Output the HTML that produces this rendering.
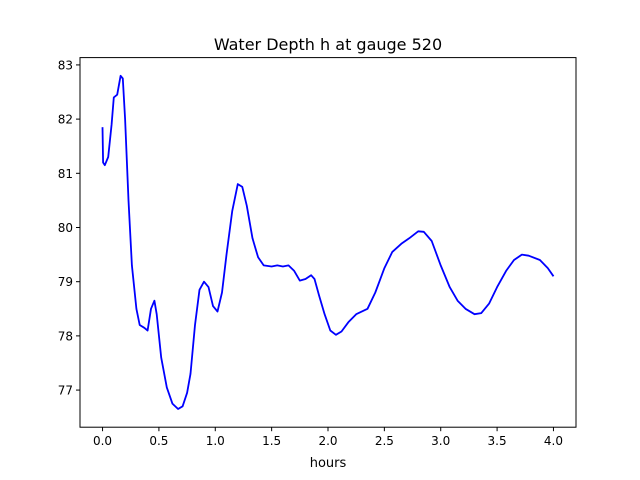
<!DOCTYPE html>
<html><head><meta charset="utf-8"><style>body{margin:0;background:#fff}svg{display:block}text{font-family:"DejaVu Sans","Liberation Sans",sans-serif}</style></head>
<body>
<svg id="chart" width="640" height="480">
<rect width="640" height="480" fill="#fff"/>
<text x="328" y="50" font-size="16" text-anchor="middle">Water Depth h at gauge 520</text>
<text x="328" y="467" font-size="13" text-anchor="middle">hours</text>
<g id="ticks"></g>
<polyline id="line" fill="none" stroke="#0000ff" stroke-width="1.8" stroke-linejoin="round"/>
<rect x="80" y="57.6" width="496" height="369.6" fill="none" stroke="#000" stroke-width="1"/>
</svg>
<script>
const hours=[0,0.005,0.02,0.05,0.08,0.1,0.13,0.16,0.18,0.2,0.23,0.26,0.3,0.33,0.37,0.4,0.43,0.46,0.48,0.52,0.57,0.62,0.67,0.71,0.75,0.78,0.82,0.86,0.9,0.94,0.98,1.02,1.06,1.1,1.15,1.2,1.24,1.28,1.33,1.38,1.43,1.5,1.55,1.6,1.65,1.7,1.75,1.8,1.85,1.88,1.92,1.97,2.02,2.07,2.12,2.18,2.25,2.35,2.42,2.5,2.57,2.65,2.72,2.8,2.85,2.92,3.0,3.08,3.15,3.22,3.3,3.36,3.43,3.5,3.58,3.65,3.72,3.78,3.88,3.95,4.0];
const depth=[81.85,81.2,81.15,81.3,81.9,82.4,82.45,82.8,82.75,82.0,80.5,79.3,78.5,78.2,78.15,78.1,78.5,78.65,78.4,77.6,77.05,76.75,76.65,76.7,76.95,77.3,78.2,78.85,79.0,78.9,78.55,78.45,78.8,79.5,80.3,80.8,80.75,80.4,79.8,79.45,79.3,79.28,79.3,79.28,79.3,79.2,79.02,79.05,79.12,79.05,78.75,78.4,78.1,78.02,78.08,78.25,78.4,78.5,78.8,79.25,79.55,79.7,79.8,79.93,79.92,79.75,79.3,78.9,78.65,78.5,78.4,78.42,78.6,78.9,79.2,79.4,79.5,79.48,79.4,79.25,79.1];
const xTicks=[0,0.5,1,1.5,2,2.5,3,3.5,4];
const xTickLabels=["0.0","0.5","1.0","1.5","2.0","2.5","3.0","3.5","4.0"];
const yTicks=[77,78,79,80,81,82,83];
const yTickLabels=["77","78","79","80","81","82","83"];
const L=80,R=576,T=57.6,B=427.2;
const xmin=-0.2,xmax=4.2,ymin=76.315,ymax=83.135;
const sx=v=>L+(v-xmin)/(xmax-xmin)*(R-L);
const sy=v=>B-(v-ymin)/(ymax-ymin)*(B-T);
const NS="http://www.w3.org/2000/svg";
const g=document.getElementById('ticks');
function mk(tag,attrs){const e=document.createElementNS(NS,tag);for(const k in attrs)e.setAttribute(k,attrs[k]);return e;}
xTicks.forEach((t,i)=>{
  const l=mk('line',{x1:sx(t),x2:sx(t),y1:B,y2:B+4,stroke:'#000'});
  
  
  g.appendChild(l);
  const tx=mk('text',{x:sx(t),y:B+18,'font-size':12,'text-anchor':'middle'});
  
  
  tx.textContent=xTickLabels[i];g.appendChild(tx);
});
yTicks.forEach((t,i)=>{
  const l=mk('line',{x1:L-4,x2:L,y1:sy(t),y2:sy(t),stroke:'#000'});
  
  
  g.appendChild(l);
  const tx=mk('text',{x:L-7,y:sy(t)+4.5,'font-size':12,'text-anchor':'end'});
  
  
  tx.textContent=yTickLabels[i];g.appendChild(tx);
});
document.getElementById('line').setAttribute('points',hours.map((h,i)=>sx(h).toFixed(1)+','+sy(depth[i]).toFixed(1)).join(' '));
</script>
</body></html>
